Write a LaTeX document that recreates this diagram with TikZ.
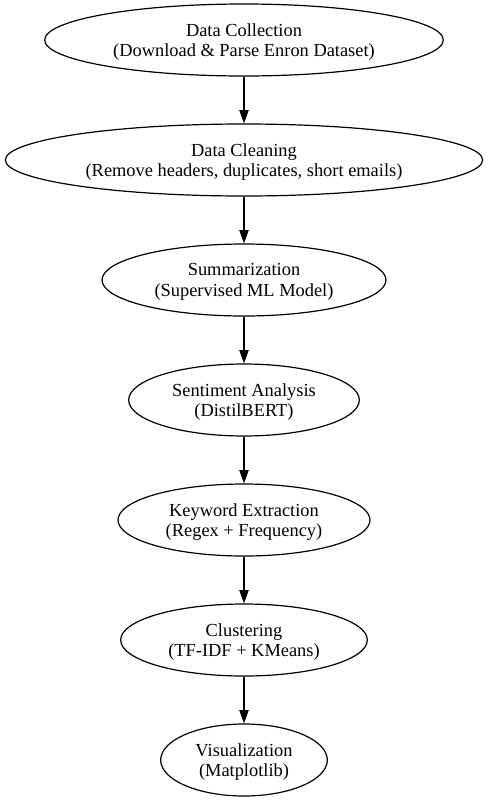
\documentclass[tikz,border=0pt]{standalone}
\usepackage{fontspec}
\setmainfont{Liberation Serif}
\usepackage{tikz}
\usetikzlibrary{shapes.geometric, arrows.meta}

\begin{document}
\begin{tikzpicture}[x=1pt, y=1pt,
    stage/.style={draw, ellipse, line width=0.9pt, minimum height=54pt,
        inner sep=0pt, text depth=0pt, align=center,
        font=\fontsize{13.8}{15.2}\selectfont},
    flow/.style={-{Triangle[length=10pt, width=7pt]}, line width=0.9pt}]
    % Frame
    \useasboundingbox (-183, 30) rectangle (183, -570);

    % Collection
    \node[stage, minimum width=299pt] (collect) at (0, 0) {
        Data Collection\\
        (Download \& Parse Enron Dataset)
    };

    % Cleaning
    \node[stage, minimum width=358pt] (clean) at (0, -90) {
        Data Cleaning\\
        (Remove headers, duplicates, short emails)
    };

    % Summarization
    \node[stage, minimum width=213pt] (summary) at (0, -180) {
        Summarization\\
        (Supervised ML Model)
    };

    % Sentiment
    \node[stage, minimum width=173pt] (sentiment) at (0, -270) {
        Sentiment Analysis\\
        (DistilBERT)
    };

    % Keywords
    \node[stage, minimum width=189pt] (keywords) at (0, -360) {
        Keyword Extraction\\
        (Regex + Frequency)
    };

    % Clustering
    \node[stage, minimum width=185pt] (cluster) at (0, -450) {
        Clustering\\
        (TF-IDF + KMeans)
    };

    % Visualization
    \node[stage, minimum width=125pt] (visual) at (0, -540) {
        Visualization\\
        (Matplotlib)
    };

    \draw[flow] (collect) -- (clean);
    \draw[flow] (clean) -- (summary);
    \draw[flow] (summary) -- (sentiment);
    \draw[flow] (sentiment) -- (keywords);
    \draw[flow] (keywords) -- (cluster);
    \draw[flow] (cluster) -- (visual);
\end{tikzpicture}
\end{document}
